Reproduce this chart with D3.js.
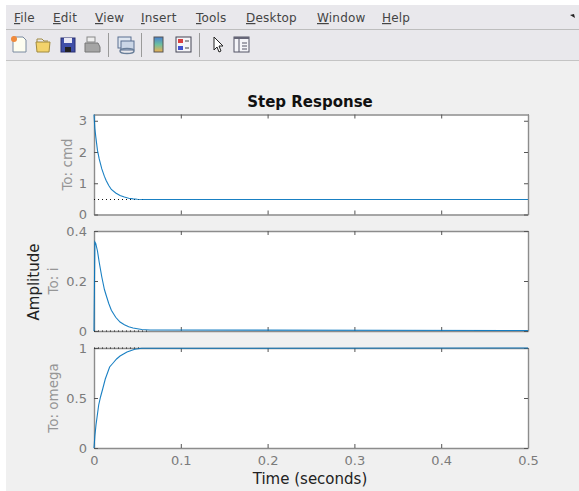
<!DOCTYPE html>
<html>
<head>
<meta charset="utf-8">
<script src="https://cdnjs.cloudflare.com/ajax/libs/d3/7.8.5/d3.min.js"></script>
<style>
  html, body { margin: 0; padding: 0; background: #fff; }
  svg { display: block; }
  text { font-family: "DejaVu Sans", sans-serif; }
</style>
</head>
<body>
<div id="chart"></div>
<script>
const menuItems = ['File', 'Edit', 'View', 'Insert', 'Tools', 'Desktop', 'Window', 'Help']
const xTicks = [0, 0.1, 0.2, 0.3, 0.4, 0.5]

// one t/value list per output
const cmdTime = [0, 0.001, 0.002, 0.004, 0.006, 0.009, 0.012, 0.014, 0.017, 0.02, 0.025, 0.03, 0.035, 0.04, 0.045, 0.05, 0.0576, 0.5]
const cmdValue = [3.2, 2.75, 2.5, 2.05, 1.78, 1.46, 1.22, 1.09, 0.93, 0.8, 0.69, 0.61, 0.56, 0.52, 0.5, 0.49, 0.48, 0.48]
const iTime = [0, 0, 0.001, 0.002, 0.004, 0.006, 0.009, 0.012, 0.014, 0.017, 0.02, 0.025, 0.03, 0.035, 0.04, 0.045, 0.055, 0.0645, 0.5]
const iValue = [0, 0, 0.356, 0.35, 0.32, 0.275, 0.216, 0.166, 0.143, 0.11, 0.083, 0.055, 0.036, 0.025, 0.017, 0.012, 0.006, 0.004, 0.002]
const omegaTime = [0, 0.001, 0.0023, 0.004, 0.0054, 0.0075, 0.01, 0.013, 0.018, 0.022, 0.026, 0.03, 0.034, 0.038, 0.047, 0.055, 0.5]
const omegaValue = [0, 0.12, 0.23, 0.34, 0.43, 0.51, 0.59, 0.69, 0.81, 0.85, 0.89, 0.92, 0.94, 0.96, 0.987, 0.997, 1]

const panels = [
  {label: 'To: cmd', labelX: 72, time: cmdTime, value: cmdValue, domain: [0, 3.2], ticks: [0, 1, 2, 3], final: 0.48, settle: 0.0576, top: 114.5, bottom: 214.5},
  {label: 'To: i', labelX: 58, time: iTime, value: iValue, domain: [0, 0.4], ticks: [0, 0.2, 0.4], final: 0, settle: 0.0645, top: 231, bottom: 331},
  {label: 'To: omega', labelX: 58, time: omegaTime, value: omegaValue, domain: [0, 1], ticks: [0, 0.5, 1], final: 1, settle: 0.055, top: 348, bottom: 448}
]

const width = 579, height = 491
const svg = d3.select('#chart').append('svg').attr('width', width).attr('height', height)

// window chrome
svg.append('rect').attr('x', 6).attr('y', 5).attr('width', width - 6).attr('height', height - 5).attr('fill', '#f0f0f0')
svg.append('rect').attr('x', 6).attr('y', 5).attr('width', width - 6).attr('height', 55).attr('fill', '#e9e8ec')
svg.append('line').attr('x1', 6).attr('x2', width).attr('y1', 29.5).attr('y2', 29.5).attr('stroke', '#bdbdbd')
svg.append('line').attr('x1', 6).attr('x2', width).attr('y1', 60.5).attr('y2', 60.5).attr('stroke', '#c4c4c4')

const menuX = [14, 53, 95, 141, 196, 246, 317, 382]
const menu = svg.append('g')
menuItems.forEach((m, i) => {
  const t = menu.append('text').attr('x', menuX[i]).attr('y', 22).attr('font-size', 12).attr('fill', '#444').attr('letter-spacing', 0.2)
  t.append('tspan').attr('text-decoration', 'underline').text(m[0])
  t.append('tspan').text(m.slice(1))
})

// toolbar icons
const bar = svg.append('g')
bar.append('path').attr('d', 'M13 37h10l3 3v12H13z').attr('fill', '#fdfdf0').attr('stroke', '#7a8aa0')
bar.append('circle').attr('cx', 14).attr('cy', 39).attr('r', 3).attr('fill', '#f08a3c')
bar.append('path').attr('d', 'M36 42h14l-1 10H37z').attr('fill', '#f3d36b').attr('stroke', '#a08a40')
bar.append('path').attr('d', 'M37 42v-3h5l2 2h4').attr('fill', 'none').attr('stroke', '#a08a40')
bar.append('rect').attr('x', 61).attr('y', 38).attr('width', 14).attr('height', 14).attr('fill', '#3f4fa8').attr('stroke', '#2a2f70')
bar.append('rect').attr('x', 64).attr('y', 38).attr('width', 8).attr('height', 5).attr('fill', '#e8e8f4')
bar.append('rect').attr('x', 65).attr('y', 47).attr('width', 6).attr('height', 5).attr('fill', '#222')
bar.append('rect').attr('x', 87).attr('y', 37).attr('width', 8).attr('height', 5).attr('fill', '#eee').attr('stroke', '#888')
bar.append('path').attr('d', 'M85 43h13l2 4v5H85z').attr('fill', '#a5a5a5').attr('stroke', '#777')
bar.append('rect').attr('x', 118).attr('y', 37).attr('width', 13).attr('height', 11).attr('fill', '#dfe6f0').attr('stroke', '#5a6f90')
bar.append('rect').attr('x', 121).attr('y', 41).attr('width', 13).attr('height', 9).attr('fill', '#cbd6e6').attr('stroke', '#5a6f90')
bar.append('ellipse').attr('cx', 127).attr('cy', 51).attr('rx', 7).attr('ry', 2.5).attr('fill', 'none').attr('stroke', '#6a7f9a').attr('stroke-width', 1.5)
const grad = svg.append('defs').append('linearGradient').attr('id', 'cbar').attr('x1', 0).attr('x2', 0).attr('y1', 0).attr('y2', 1)
grad.append('stop').attr('offset', 0).attr('stop-color', '#4a7fd0')
grad.append('stop').attr('offset', 0.5).attr('stop-color', '#6cc0a0')
grad.append('stop').attr('offset', 1).attr('stop-color', '#f0b050')
bar.append('rect').attr('x', 154).attr('y', 37).attr('width', 9).attr('height', 15).attr('fill', 'url(#cbar)').attr('stroke', '#555')
bar.append('rect').attr('x', 176).attr('y', 37).attr('width', 15).attr('height', 15).attr('fill', '#f4f4f8').attr('stroke', '#445')
bar.append('rect').attr('x', 178).attr('y', 39).attr('width', 5).attr('height', 4).attr('fill', '#d84040')
bar.append('rect').attr('x', 178).attr('y', 46).attr('width', 5).attr('height', 4).attr('fill', '#4050d0')
bar.append('path').attr('d', 'M185 41h4M185 48h4').attr('stroke', '#444')
bar.append('path').attr('d', 'M214 37v13l3-3 2 5 2-1-2-5h4z').attr('fill', '#fff').attr('stroke', '#222')
bar.append('rect').attr('x', 234).attr('y', 37).attr('width', 15).attr('height', 15).attr('fill', '#f4f4f8').attr('stroke', '#556')
bar.append('rect').attr('x', 234).attr('y', 37).attr('width', 15).attr('height', 2).attr('fill', '#667')
bar.append('path').attr('d', 'M239 39v13M242 43h5M242 46h5M242 49h5').attr('stroke', '#556')
;[108.5, 141.5, 199.5].forEach(x => {
  bar.append('line').attr('x1', x).attr('x2', x).attr('y1', 33).attr('y2', 57).attr('stroke', '#9a9a9a')
})

// axes
const scaleX = d3.scaleLinear().domain([0, 0.5]).range([94, 528])

panels.forEach((p, n) => {
  const scaleY = d3.scaleLinear().domain(p.domain).range([p.bottom, p.top])
  const g = svg.append('g')
  g.append('rect').attr('x', 94).attr('y', p.top).attr('width', 434).attr('height', p.bottom - p.top).attr('fill', '#fff')

  const axisB = d3.axisBottom(scaleX).tickValues(xTicks).tickSize(-4).tickSizeOuter(0).tickFormat(n === 2 ? d3.format('') : '')
  const axisT = d3.axisTop(scaleX).tickValues(xTicks).tickSize(-4).tickSizeOuter(0).tickFormat('')
  const axisL = d3.axisLeft(scaleY).tickValues(p.ticks).tickSize(-4).tickSizeOuter(0).tickFormat(d3.format(''))
  const axisR = d3.axisRight(scaleY).tickValues(p.ticks).tickSize(-4).tickSizeOuter(0).tickFormat('')

  const gB = g.append('g').attr('transform', `translate(0,${p.bottom})`).call(axisB)
  const gT = g.append('g').attr('transform', `translate(0,${p.top})`).call(axisT)
  const gL = g.append('g').attr('transform', 'translate(94,0)').call(axisL)
  const gR = g.append('g').attr('transform', 'translate(528,0)').call(axisR)
  ;[gB, gT, gL, gR].forEach(a => {
    a.select('.domain').attr('stroke', '#8c8c8c').attr('stroke-width', 1.4)
    a.selectAll('.tick line').attr('stroke', '#555')
    a.selectAll('.tick text').attr('fill', '#7b7b7b').attr('font-size', 13).attr('font-family', '"DejaVu Sans", sans-serif')
  })
  gL.selectAll('.tick text').attr('x', -7)
  gB.selectAll('.tick text').attr('y', 8)

  // dotted steady state line up to the settling time
  g.append('path')
    .attr('d', d3.line()([[scaleX(0), scaleY(p.final)], [scaleX(p.settle), scaleY(p.final)]]))
    .attr('stroke', '#111').attr('stroke-dasharray', '1,3').attr('fill', 'none')

  const line = d3.line().x((d, i) => scaleX(p.time[i])).y(d => scaleY(d))
  g.append('path').attr('d', line(p.value)).attr('fill', 'none').attr('stroke', '#0072bd').attr('stroke-width', 1.1)
    .attr('opacity', 0.9)

  g.append('text').attr('transform', `translate(${p.labelX},${(p.top + p.bottom) / 2}) rotate(-90)`)
    .attr('text-anchor', 'middle').attr('font-size', 13.5).attr('fill', '#969696').text(p.label)
})

svg.append('text').attr('x', 310).attr('y', 107).attr('text-anchor', 'middle').attr('font-size', 15).attr('font-weight', 'bold').attr('fill', '#111').text('Step Response')
svg.append('text').attr('x', 310).attr('y', 484).attr('text-anchor', 'middle').attr('font-size', 15).attr('fill', '#222').text('Time (seconds)')
svg.append('text').attr('transform', 'translate(39,282) rotate(-90)').attr('text-anchor', 'middle').attr('font-size', 15).attr('fill', '#222').text('Amplitude')

svg.append('path').attr('d', 'M570 15l5 3-1-4z').attr('fill', '#222')
</script>
</body>
</html>
